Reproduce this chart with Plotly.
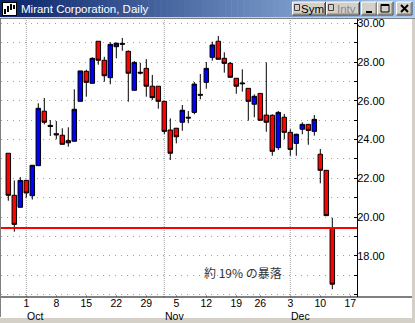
import pandas as pd
import plotly.graph_objects as go

# ---------------- data ----------------
dates = ["2001-09-26", "2001-09-27", "2001-09-28",
         "2001-10-01", "2001-10-02", "2001-10-03", "2001-10-04", "2001-10-05",
         "2001-10-08", "2001-10-09", "2001-10-10", "2001-10-11", "2001-10-12",
         "2001-10-15", "2001-10-16", "2001-10-17", "2001-10-18", "2001-10-19",
         "2001-10-22", "2001-10-23", "2001-10-24", "2001-10-25", "2001-10-26",
         "2001-10-29", "2001-10-30", "2001-10-31", "2001-11-01", "2001-11-02",
         "2001-11-05", "2001-11-06", "2001-11-07", "2001-11-08", "2001-11-09",
         "2001-11-12", "2001-11-13", "2001-11-14", "2001-11-15", "2001-11-16",
         "2001-11-19", "2001-11-20", "2001-11-21", "2001-11-23",
         "2001-11-26", "2001-11-27", "2001-11-28", "2001-11-29", "2001-11-30",
         "2001-12-03", "2001-12-04", "2001-12-05", "2001-12-06", "2001-12-07",
         "2001-12-10", "2001-12-11", "2001-12-12"]
opens = [23.29, 21.12, 20.50,
         21.89, 21.10, 22.65, 25.46, 24.73,
         24.30, 24.22, 23.94, 23.91, 25.97,
         27.52, 26.90, 29.07, 28.09, 27.19,
         28.79, 28.96, 28.55, 26.54, 27.47,
         27.67, 26.75, 26.75, 25.97, 24.49,
         24.58, 24.89, 25.15, 25.40, 26.33,
         26.95, 28.24, 29.07, 28.19, 27.93,
         27.16, 26.92, 26.64, 25.82,
         26.38, 25.26, 25.25, 23.58, 25.15,
         24.37, 23.80, 24.53, 24.78, 24.42,
         23.24, 22.41, 19.42]
highs = [23.29, 21.89, 22.06,
         21.92, 22.67, 25.87, 26.14, 25.00,
         24.95, 24.58, 24.63, 26.59, 27.54,
         27.60, 28.24, 29.07, 28.27, 29.02,
         29.00, 29.24, 28.60, 28.05, 27.96,
         28.15, 27.33, 26.75, 25.97, 25.09,
         24.60, 25.78, 25.47, 26.97, 27.38,
         28.00, 29.05, 29.34, 28.50, 28.00,
         27.16, 27.62, 26.64, 26.33,
         26.40, 27.98, 25.30, 25.47, 25.32,
         24.53, 24.30, 24.89, 24.80, 25.26,
         23.51, 22.41, 19.96]
lows = [20.84, 19.24, 20.50,
        21.00, 20.90, 22.65, 24.78, 24.18,
        24.01, 23.75, 23.63, 23.91, 25.97,
        26.21, 26.90, 27.86, 26.98, 26.85,
        28.19, 28.58, 25.95, 26.54, 27.36,
        26.21, 26.04, 25.59, 24.28, 22.94,
        23.80, 24.45, 24.84, 25.30, 26.07,
        26.62, 28.07, 28.14, 27.45, 27.21,
        26.36, 26.47, 24.97, 25.15,
        24.99, 24.40, 23.16, 23.46, 24.01,
        23.16, 23.16, 24.27, 23.73, 24.20,
        21.74, 20.07, 16.27]
closes = [21.12, 19.62, 21.89,
          21.24, 22.67, 25.61, 24.89, 24.67,
          24.24, 23.75, 23.83, 25.56, 27.54,
          26.95, 28.19, 28.09, 27.29, 28.91,
          28.97, 28.92, 27.42, 27.98, 27.43,
          26.75, 26.16, 25.97, 24.42, 23.29,
          24.14, 25.51, 25.11, 26.86, 26.29,
          27.67, 28.88, 28.14, 27.93, 27.21,
          26.75, 26.88, 25.97, 26.23,
          24.99, 24.89, 23.39, 25.40, 24.37,
          23.49, 24.27, 24.78, 24.47, 25.04,
          22.41, 20.07, 16.53]

support_level = 19.43
note_text = "約 19% の暴落"
window_title = "Mirant Corporation, Daily"
month_names = ["Oct", "Nov", "Dec"]
month_starts = ["2001-10-01", "2001-11-01", "2001-12-03"]
y_tick_values = [18, 20, 22, 24, 26, 28, 30]
y_tick_labels = ["%.2f" % v for v in y_tick_values]

# trading-day calendar (Thanksgiving closed)
cal = [d for d in pd.bdate_range("2001-09-26", "2001-12-21")
       if d != pd.Timestamp("2001-11-22")]
pos = {d.strftime("%Y-%m-%d"): i for i, d in enumerate(cal)}
x = [pos[d] for d in dates]
mondays = [(i, d.day) for i, d in enumerate(cal)
           if d.weekday() == 0 and pd.Timestamp("2001-10-01") <= d <= pd.Timestamp("2001-12-17")]
tick_vals = [m[0] for m in mondays]
tick_text = [str(m[1]) for m in mondays]

# ---------------- geometry helpers ----------------
W, H = 415, 323
PL, PR, PT, PB = 1, 357, 19, 297


def fx(px):
    return (px - PL) / (PR - PL)


def fy(py):
    return (PB - py) / (PB - PT)


fig = go.Figure()
fig.add_trace(go.Candlestick(
    x=x, open=opens, high=highs, low=lows, close=closes,
    increasing=dict(fillcolor="#0000ff", line=dict(color="black", width=1)),
    decreasing=dict(fillcolor="#ff0000", line=dict(color="black", width=1)),
    whiskerwidth=0, hoverinfo="skip", showlegend=False,
))

shapes = []
annotations = []


def rect(x0, y0, x1, y1, fill, line=None, lw=0):
    shapes.append(dict(type="rect", xref="paper", yref="paper",
                       x0=fx(x0), x1=fx(x1), y0=fy(y0), y1=fy(y1),
                       fillcolor=fill, line=dict(width=lw, color=line or fill),
                       layer="above"))


def seg(x0, y0, x1, y1, color, w=1):
    shapes.append(dict(type="line", xref="paper", yref="paper",
                       x0=fx(x0), x1=fx(x1), y0=fy(y0), y1=fy(y1),
                       line=dict(width=w, color=color), layer="above"))


# month gridlines
for ms in month_starts:
    shapes.append(dict(type="line", xref="x", yref="paper", x0=pos[ms], x1=pos[ms],
                       y0=0, y1=1, line=dict(color="#a0a0a0", width=1, dash="1px,1px"),
                       layer="below"))

# support line
shapes.append(dict(type="line", xref="paper", yref="y", x0=0, x1=1,
                   y0=support_level, y1=support_level,
                   line=dict(color="#ff0000", width=2), layer="above"))

# bottom axis line extending under the price scale
seg(0, 297, 412, 297, "black", 1)

# window frame
rect(0, 17, 1, 318, "#808080")
rect(412, 17, 415, 323, "#d4d0c8")
rect(0, 317, 415, 323, "#d4d0c8")
seg(0, 317.5, 412, 317.5, "#ffffff", 1)

# title bar gradient
N = 70
c0, c1 = (10, 36, 106), (166, 202, 240)
for k in range(N):
    t = k / (N - 1)
    col = "rgb(%d,%d,%d)" % tuple(round(a + (b - a) * t) for a, b in zip(c0, c1))
    rect(W * k / N, 0, W * (k + 1) / N + 0.6, 17, col)
rect(0, 17, 415, 18, "#d4d0c8")
rect(0, 18, 415, 19, "#808080")

# title icon
rect(2, 2, 17, 16, "#000000")
rect(3, 3, 16, 15, "#ffffff")
for bx, by0, by1 in [(5, 9, 14), (8, 6, 12), (11, 4, 10), (14, 5, 9)]:
    seg(bx, by0, bx, by1, "#000000", 2)

annotations.append(dict(text=window_title, xref="paper", yref="paper",
                        x=fx(19), y=fy(8.5), xanchor="left", yanchor="middle",
                        showarrow=False,
                        font=dict(family="Liberation Sans", size=11.5, color="white")))


def button(x0, x1):
    rect(x0, 2, x1, 15, "#d4d0c8")
    seg(x0, 2, x1, 2, "#ffffff")
    seg(x0, 2, x0, 15, "#ffffff")
    seg(x0, 15, x1, 15, "#404040")
    seg(x1, 2, x1, 15, "#404040")
    seg(x0 + 1, 14, x1 - 1, 14, "#808080")
    seg(x1 - 1, 3, x1 - 1, 14, "#808080")


button(292.5, 325.5)
button(326.5, 359.5)
button(361.5, 377)
button(377.5, 393)
button(396.5, 412)
# checkboxes
for cx in (294.5, 328.5):
    rect(cx, 4.5, cx + 5, 10.5, "#d4d0c8", "#404040", 1)
annotations.append(dict(text="Sym", xref="paper", yref="paper", x=fx(312), y=fy(8.5),
                        xanchor="center", yanchor="middle", showarrow=False,
                        font=dict(family="Liberation Sans", size=11.5, color="black")))
annotations.append(dict(text="Intv", xref="paper", yref="paper", x=fx(346.5), y=fy(8.5),
                        xanchor="center", yanchor="middle", showarrow=False,
                        font=dict(family="Liberation Sans", size=11.5, color="#8a8a8a")))
# minimize / maximize / close glyphs
seg(366, 12, 372, 12, "black", 2)
rect(381, 4.5, 389, 12, "rgba(0,0,0,0)", "black", 1)
seg(381, 5, 389, 5, "black", 2)
seg(401, 5, 408, 12, "black", 2)
seg(401, 12, 408, 5, "black", 2)

# x month labels
for name, ms in zip(month_names, month_starts):
    annotations.append(dict(text=name, xref="x", yref="paper", x=pos[ms], y=fy(309),
                            xanchor="left", yanchor="top", showarrow=False, borderpad=0,
                            font=dict(family="Liberation Sans", size=10.5, color="black")))

# note
annotations.append(dict(text=note_text, xref="x", yref="y", x=39.1, y=17.11,
                        xanchor="center", yanchor="middle", showarrow=False,
                        font=dict(family="Noto Sans CJK JP", size=12, color="#333333")))

x_left = (PL - 8.3) / 6.0
x_right = (PR - 8.3) / 6.0
y_top = 30 + (23.25 - PT) / 19.375
y_bot = 30 - (PB - 23.25) / 19.375

fig.update_layout(
    width=W, height=H,
    margin=dict(l=PL, r=W - PR, t=PT, b=H - PB, pad=0),
    paper_bgcolor="white", plot_bgcolor="white",
    showlegend=False,
    boxgap=0.25, boxgroupgap=0,
    shapes=shapes, annotations=annotations,
    xaxis=dict(range=[x_left, x_right], rangeslider=dict(visible=False),
               tickvals=tick_vals, ticktext=tick_text,
               ticks="inside", ticklen=2, tickcolor="#b0b0b0",
               showgrid=False, zeroline=False, showline=False,
               ticklabelstandoff=-2,
               tickfont=dict(family="Liberation Sans", size=10.5, color="black")),
    yaxis=dict(range=[y_bot, y_top], side="right",
               tickvals=y_tick_values, ticktext=y_tick_labels,
               ticks="", showline=True, linecolor="black", linewidth=1,
               showgrid=True, gridcolor="#a0a0a0", griddash="1px,5px", gridwidth=1,
               zeroline=False, ticklabelstandoff=-3,
               minor=dict(dtick=1, tick0=1, ticks="inside", ticklen=3, tickcolor="black",
                          showgrid=True, gridcolor="#a0a0a0", griddash="1px,5px"),
               tickfont=dict(family="Liberation Sans", size=11, color="black")),
    font=dict(family="Liberation Sans", size=11, color="black"),
)

fig.write_html("out.html")
